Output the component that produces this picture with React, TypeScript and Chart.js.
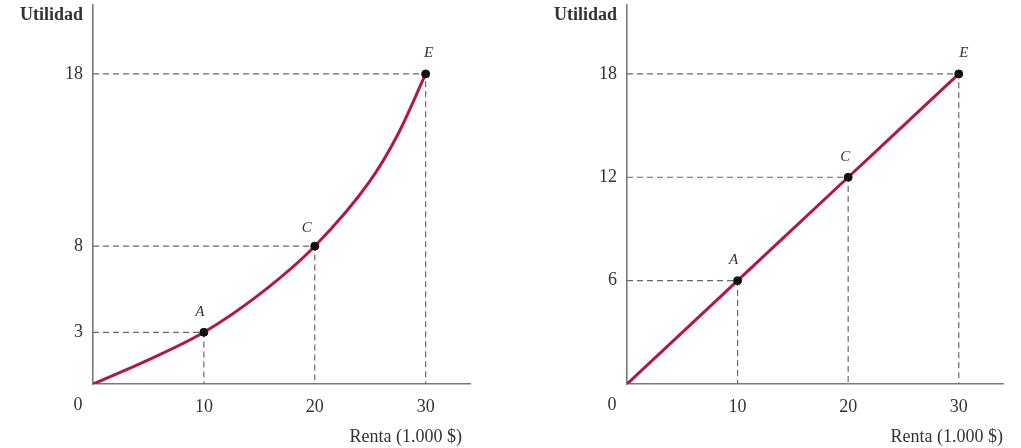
import React, { useEffect, useRef } from "react";
import { Chart, registerables } from "chart.js";

Chart.register(...registerables);

// ---- data ----
const X_TICKS = [10, 20, 30];
const LEFT_Y_TICKS = [3, 8, 18];
const RIGHT_Y_TICKS = [6, 12, 18];

const LEFT_CURVE_X = [0, 5, 10, 15, 20, 25, 27.5, 30];
const LEFT_CURVE_Y = [0, 1.4, 3, 5.2, 8, 11.8, 14.5, 18];

const RIGHT_LINE_X = [0, 10, 20, 30];
const RIGHT_LINE_Y = [0, 6, 12, 18];

const POINT_LABELS = ["A", "C", "E"];
const POINT_X = [10, 20, 30];
const LEFT_POINT_Y = [3, 8, 18];
const RIGHT_POINT_Y = [6, 12, 18];

const X_MAX = 34;
const Y_MAX = 22;

const SERIF = "'Liberation Serif', 'DejaVu Serif', serif";
const CURVE_COLOR = "#b3154c";
const GUIDE_COLOR = "#6a6a6a";
const AXIS_COLOR = "#7a7a7a";
const TEXT_COLOR = "#333333";

type PanelOpts = {
  curveX: number[];
  curveY: number[];
  pointY: number[];
  yTicks: number[];
  yAxisWidth: number;
  padRight: number;
  rentaShift: number;
  labelOffsets: [number, number][];
};

function makeConfig(p: PanelOpts): any {
  const pts = POINT_X.map((x, i) => ({ x, y: p.pointY[i] }));
  const guides = POINT_X.map((x, i) => ({
    type: "line",
    data: [
      { x: 0, y: p.pointY[i] },
      { x, y: p.pointY[i] },
      { x, y: 0 },
    ],
    borderColor: GUIDE_COLOR,
    borderWidth: 1.2,
    borderDash: [6, 4],
    pointRadius: 0,
    fill: false,
    order: 3,
  }));

  const labelPlugin = {
    id: "labels",
    afterDraw(chart: any) {
      const { ctx, chartArea, scales } = chart;
      const xs = scales.x;
      const ys = scales.y;
      ctx.save();
      ctx.fillStyle = TEXT_COLOR;
      ctx.textAlign = "right";
      ctx.textBaseline = "alphabetic";
      ctx.font = `bold 18px ${SERIF}`;
      ctx.fillText("Utilidad", chartArea.left - 10, 20);
      ctx.font = `18px ${SERIF}`;
      ctx.fillText("Renta (1.000 $)", chartArea.right + p.rentaShift, 442);
      ctx.textAlign = "center";
      ctx.textBaseline = "middle";
      ctx.fillText("0", chartArea.left - 15, 405);
      ctx.font = `italic 15px ${SERIF}`;
      POINT_LABELS.forEach((lab, i) => {
        const px = xs.getPixelForValue(POINT_X[i]);
        const py = ys.getPixelForValue(p.pointY[i]);
        const [dx, dy] = p.labelOffsets[i];
        ctx.fillText(lab, px + dx, py + dy);
      });
      ctx.restore();
    },
  };

  return {
    type: "scatter",
    data: {
      datasets: [
        {
          type: "scatter",
          data: pts,
          backgroundColor: "#111",
          borderColor: "#111",
          pointRadius: 4,
          order: 1,
        },
        {
          type: "line",
          data: p.curveX.map((x, i) => ({ x, y: p.curveY[i] })),
          borderColor: CURVE_COLOR,
          borderWidth: 3,
          pointRadius: 0,
          cubicInterpolationMode: "monotone",
          fill: false,
          order: 2,
        },
        ...guides,
      ],
    },
    options: {
      animation: false,
      responsive: false,
      maintainAspectRatio: false,
      layout: { padding: { top: 5, right: p.padRight, bottom: 0, left: 0 } },
      plugins: { legend: { display: false }, tooltip: { enabled: false } },
      scales: {
        x: {
          type: "linear",
          min: 0,
          max: X_MAX,
          grid: { display: false, drawTicks: false },
          border: { display: true, color: AXIS_COLOR, width: 1.6 },
          ticks: {
            padding: 12,
            color: TEXT_COLOR,
            font: { family: SERIF, size: 18 },
          },
          afterBuildTicks(scale: any) {
            scale.ticks = X_TICKS.map((v) => ({ value: v }));
          },
          afterFit(scale: any) {
            scale.height = 64;
            scale.paddingLeft = 0;
            scale.paddingRight = 0;
          },
        },
        y: {
          type: "linear",
          min: 0,
          max: Y_MAX,
          grid: { display: false, drawTicks: false },
          border: { display: true, color: AXIS_COLOR, width: 1.6 },
          ticks: {
            padding: 10,
            color: TEXT_COLOR,
            font: { family: SERIF, size: 18 },
          },
          afterBuildTicks(scale: any) {
            scale.ticks = p.yTicks.map((v) => ({ value: v }));
          },
          afterFit(scale: any) {
            scale.width = p.yAxisWidth;
            scale.paddingTop = 0;
            scale.paddingBottom = 0;
          },
        },
      },
    },
    plugins: [labelPlugin],
  };
}

function Panel({ opts, left, width }: { opts: PanelOpts; left: number; width: number }) {
  const ref = useRef<HTMLCanvasElement>(null);
  useEffect(() => {
    if (!ref.current) return;
    const chart = new Chart(ref.current, makeConfig(opts));
    return () => chart.destroy();
  }, []);
  return (
    <canvas
      ref={ref}
      width={width}
      height={448}
      style={{ position: "absolute", left, top: 0, width, height: 448 }}
    />
  );
}

export default function App() {
  const leftOpts: PanelOpts = {
    curveX: LEFT_CURVE_X,
    curveY: LEFT_CURVE_Y,
    pointY: LEFT_POINT_Y,
    yTicks: LEFT_Y_TICKS,
    yAxisWidth: 93,
    padRight: 40,
    rentaShift: -8,
    labelOffsets: [
      [-4, -20],
      [-8, -18],
      [3, -21],
    ],
  };
  const rightOpts: PanelOpts = {
    curveX: RIGHT_LINE_X,
    curveY: RIGHT_LINE_Y,
    pointY: RIGHT_POINT_Y,
    yTicks: RIGHT_Y_TICKS,
    yAxisWidth: 117,
    padRight: 18,
    rentaShift: 0,
    labelOffsets: [
      [-4, -21],
      [-3, -20],
      [5, -21],
    ],
  };
  return (
    <div
      style={{
        position: "absolute",
        left: 0,
        top: 0,
        width: 1021,
        height: 448,
        background: "#fff",
        overflow: "hidden",
      }}
    >
      <Panel opts={leftOpts} left={0} width={510} />
      <Panel opts={rightOpts} left={510} width={511} />
    </div>
  );
}
